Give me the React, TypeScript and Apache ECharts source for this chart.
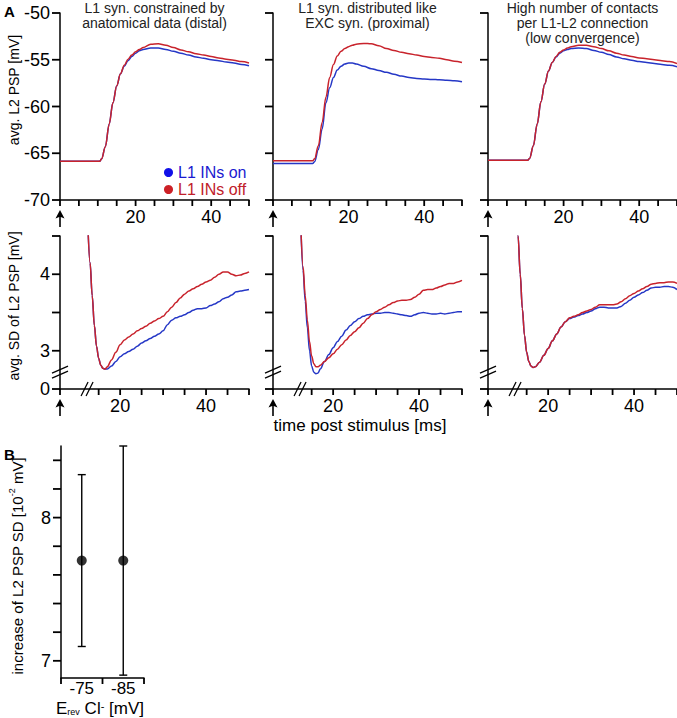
import { useEffect, useRef } from "react";
import * as echarts from "echarts";

const FONT = "'Liberation Sans', Arial, sans-serif";
const BLUE = "#2537c6";
const RED = "#c8232c";

// ---------- data ----------
const SERIES_ON = "L1 INs on";
const SERIES_OFF = "L1 INs off";

const PANEL_TITLES = [
  "L1 syn. constrained by\nanatomical data (distal)",
  "L1 syn. distributed like\nEXC syn. (proximal)",
  "High number of contacts\nper L1-L2 connection\n(low convergence)",
];

// time [ms] for the mean PSP traces
const TOP_TIME = [0, 5, 10, 10.5, 11, 12, 13, 14, 15, 16, 17, 18, 19, 20, 21, 22, 24, 26, 28, 30, 32, 34, 36, 38, 40, 42, 44, 46, 48, 50];

const P1_PSP_ON = [-65.85, -65.85, -65.85, -65.85, -65.6, -64.3, -61.9, -59.6, -57.8, -56.5, -55.7, -55.1, -54.65, -54.3, -54.05, -53.9, -53.75, -53.75, -53.9, -54.1, -54.3, -54.5, -54.7, -54.85, -55.0, -55.1, -55.25, -55.35, -55.5, -55.65];
const P1_PSP_OFF = [-65.85, -65.85, -65.85, -65.85, -65.6, -64.3, -61.9, -59.6, -57.8, -56.5, -55.6, -54.95, -54.5, -54.15, -53.9, -53.7, -53.35, -53.3, -53.45, -53.7, -53.95, -54.15, -54.35, -54.5, -54.65, -54.8, -54.95, -55.05, -55.2, -55.35];
const P2_PSP_ON = [-66.1, -66.1, -66.1, -66.1, -65.9, -64.6, -62.4, -59.6, -58.0, -56.9, -56.1, -55.7, -55.45, -55.35, -55.35, -55.45, -55.7, -55.95, -56.15, -56.35, -56.55, -56.75, -56.9, -57.0, -57.05, -57.1, -57.15, -57.2, -57.25, -57.35];
const P2_PSP_OFF = [-65.8, -65.8, -65.8, -65.8, -65.6, -64.2, -61.7, -59.0, -56.9, -55.5, -54.6, -54.1, -53.8, -53.6, -53.45, -53.35, -53.25, -53.3, -53.5, -53.8, -54.0, -54.2, -54.35, -54.5, -54.65, -54.75, -54.85, -55.0, -55.15, -55.3];
const P3_PSP_ON = [-65.75, -65.75, -65.75, -65.75, -65.55, -64.2, -61.9, -59.5, -57.6, -56.2, -55.3, -54.7, -54.3, -54.05, -53.9, -53.8, -53.75, -53.8, -54.0, -54.2, -54.45, -54.7, -54.9, -55.05, -55.2, -55.3, -55.4, -55.5, -55.6, -55.75];
const P3_PSP_OFF = [-65.75, -65.75, -65.75, -65.75, -65.55, -64.2, -61.9, -59.5, -57.6, -56.2, -55.3, -54.65, -54.2, -53.95, -53.75, -53.6, -53.45, -53.45, -53.6, -53.8, -54.05, -54.3, -54.5, -54.65, -54.8, -54.9, -55.0, -55.1, -55.2, -55.4];

// time [ms] for the SD traces
const SD_TIME = [12.5, 13, 13.5, 14, 14.5, 15, 15.5, 16, 16.5, 17, 18, 19, 20, 21, 22, 23, 24, 25, 26, 27, 28, 29, 30, 31, 32, 33, 34, 35, 36, 37, 38, 39, 40, 41, 42, 43, 44, 45, 46, 47, 48, 49, 50];

const P1_SD_ON = [4.62, 4.15, 3.72, 3.33, 3.06, 2.9, 2.81, 2.77, 2.76, 2.76, 2.8, 2.86, 2.92, 2.96, 2.99, 3.02, 3.06, 3.1, 3.13, 3.16, 3.19, 3.22, 3.26, 3.34, 3.4, 3.43, 3.45, 3.47, 3.5, 3.53, 3.55, 3.55, 3.56, 3.59, 3.61, 3.64, 3.68, 3.7, 3.73, 3.77, 3.78, 3.79, 3.8];
const P1_SD_OFF = [4.62, 4.15, 3.72, 3.33, 3.06, 2.9, 2.81, 2.77, 2.76, 2.79, 2.88, 2.98, 3.08, 3.14, 3.18, 3.22, 3.26, 3.29, 3.32, 3.36, 3.39, 3.42, 3.45, 3.51, 3.57, 3.63, 3.69, 3.74, 3.78, 3.81, 3.84, 3.87, 3.9, 3.92, 3.96, 4.0, 4.03, 4.03, 4.0, 3.98, 3.99, 4.01, 4.03];
const P2_SD_ON = [4.6, 4.05, 3.65, 3.3, 3.0, 2.8, 2.72, 2.7, 2.71, 2.76, 2.86, 2.95, 3.04, 3.12, 3.19, 3.27, 3.33, 3.38, 3.42, 3.45, 3.47, 3.48, 3.49, 3.49, 3.5, 3.5, 3.49, 3.48, 3.47, 3.46, 3.45, 3.47, 3.49, 3.5, 3.49, 3.48, 3.48, 3.49, 3.48, 3.49, 3.5, 3.51, 3.51];
const P2_SD_OFF = [4.6, 4.1, 3.72, 3.4, 3.12, 2.93, 2.83, 2.79, 2.79, 2.81, 2.86, 2.91, 2.96, 3.02, 3.08, 3.14, 3.2, 3.25, 3.3, 3.36, 3.42, 3.47, 3.51, 3.54, 3.57, 3.6, 3.63, 3.65, 3.66, 3.66, 3.67, 3.7, 3.74, 3.79, 3.8, 3.8, 3.82, 3.84, 3.86, 3.88, 3.88, 3.9, 3.92];
const P3_SD_ON = [5.0, 4.5, 4.0, 3.55, 3.2, 2.98, 2.86, 2.8, 2.78, 2.79, 2.85, 2.94, 3.03, 3.13, 3.22, 3.31, 3.38, 3.42, 3.44, 3.46, 3.48, 3.5, 3.52, 3.55, 3.57, 3.57, 3.56, 3.56, 3.56, 3.58, 3.62, 3.66, 3.7, 3.73, 3.76, 3.79, 3.82, 3.83, 3.83, 3.84, 3.84, 3.83, 3.8];
const P3_SD_OFF = [5.0, 4.5, 4.0, 3.55, 3.2, 2.98, 2.86, 2.8, 2.78, 2.79, 2.85, 2.94, 3.03, 3.13, 3.22, 3.31, 3.38, 3.43, 3.45, 3.47, 3.5, 3.52, 3.54, 3.57, 3.6, 3.6, 3.6, 3.6, 3.61, 3.64, 3.68, 3.72, 3.75, 3.78, 3.81, 3.84, 3.87, 3.88, 3.89, 3.89, 3.9, 3.9, 3.88];

const PSP_ON = [P1_PSP_ON, P2_PSP_ON, P3_PSP_ON];
const PSP_OFF = [P1_PSP_OFF, P2_PSP_OFF, P3_PSP_OFF];
const SD_ON = [P1_SD_ON, P2_SD_ON, P3_SD_ON];
const SD_OFF = [P1_SD_OFF, P2_SD_OFF, P3_SD_OFF];

// axis ticks / labels
const TOP_X_TICKS = [0, 5, 10, 15, 20, 25, 30, 35, 40, 45, 50];
const TOP_X_LABELS = [20, 40];
const TOP_Y_TICKS = [-70, -65, -60, -55, -50];
const SD_X_MIN = 6; // broken axis: left end stands for stimulus time 0
const SD_X_BREAK = 12.3;
const SD_X_TICKS = [6, 15, 20, 25, 30, 35, 40, 45, 50];
const SD_X_LABELS = [20, 40];
const SD_Y_TICKS = [2.5, 3, 3.5, 4, 4.5];
const SD_Y_LABEL_VALUES = [2.5, 3, 4];
const SD_Y_LABEL_TEXT = ["0", "3", "4"];
const SD_Y_BREAK = 2.72;

// panel B
const B_CATS = ["-75", "-85"];
const B_MEAN = [7.7, 7.7];
const B_LOW = [7.1, 6.9];
const B_HIGH = [8.3, 8.5];
const B_Y_MIN = 6.88;
const B_Y_TICKS = [7, 7.2, 7.4, 7.6, 7.8, 8, 8.2, 8.4];
const B_Y_LABELS = [7, 8];

// ---------- layout ----------
const COL_LEFT = [60, 273, 488];
const PANEL_W = 189;
const TOP_ROW = { top: 13, height: 187 };
const BOT_ROW = { top: 236, height: 153 };
const B_GRID = { left: 61, top: 446, width: 83, height: 232 };

const AXIS_LINE = { show: true, lineStyle: { color: "#000", width: 1.5 } };
const TICK_FONT = { fontSize: 18, fontFamily: FONT, color: "#000" };
const X_TICK_LEN = 6;
const Y_TICK_LEN = 8;
const TICK_W = 1.8;

echarts.graphic.registerShape(
  "arrowUp",
  echarts.graphic.extendPath("M0,0 L4.5,8.5 L0.8,7 L0.8,17 L-0.8,17 L-0.8,7 L-4.5,8.5 Z", {}) as any
);

// tick marks drawn as a custom series on the panel's own scales
// dir "x": tick hangs down from [v, yBase]; dir "y": tick points left from [xBase, v]
function tickSeries(idx: number, values: number[], dir: "x" | "y", base: number, xOffsetCat = 0) {
  return {
    type: "custom",
    name: "ticks",
    silent: true,
    xAxisIndex: idx,
    yAxisIndex: idx,
    clip: false,
    data: values.map((v) => (dir === "x" ? [v, base] : [base, v])),
    renderItem: (_p: any, api: any) => {
      const c = api.coord([api.value(0), api.value(1)]);
      const x = c[0] + (dir === "y" ? xOffsetCat : 0);
      const y = c[1];
      const shape =
        dir === "x"
          ? { x1: x, y1: y, x2: x, y2: y + X_TICK_LEN }
          : { x1: x - Y_TICK_LEN, y1: y, x2: x, y2: y };
      return { type: "line", shape, style: { stroke: "#000", lineWidth: TICK_W } };
    },
    z: 6,
  };
}

export default function App() {
  const ref = useRef<HTMLDivElement>(null);

  useEffect(() => {
    document.body.style.margin = "0";
    if (!ref.current) return;
    const chart = echarts.init(ref.current, null, { renderer: "svg" });

    const grids: any[] = [];
    const xAxes: any[] = [];
    const yAxes: any[] = [];
    const series: any[] = [];

    const lineSeries = (name: string, idx: number, data: number[][], color: string, z: number) => ({
      type: "line",
      name,
      xAxisIndex: idx,
      yAxisIndex: idx,
      data,
      showSymbol: false,
      smooth: 0.35,
      smoothMonotone: "x",
      clip: true,
      lineStyle: { color, width: 1.5 },
      itemStyle: { color },
      z,
    });

    // top row
    for (let i = 0; i < 3; i++) {
      grids.push({ left: COL_LEFT[i], top: TOP_ROW.top, width: PANEL_W, height: TOP_ROW.height });
      xAxes.push({
        type: "value",
        gridIndex: i,
        min: 0,
        max: 50,
        axisLine: AXIS_LINE,
        axisTick: { show: false },
        axisLabel: { show: true, customValues: TOP_X_LABELS, ...TICK_FONT, margin: 8 },
        splitLine: { show: false },
      });
      yAxes.push({
        type: "value",
        gridIndex: i,
        min: -70,
        max: -50,
        axisLine: AXIS_LINE,
        axisTick: { show: false },
        axisLabel: { show: i === 0, customValues: TOP_Y_TICKS, ...TICK_FONT, margin: 10 },
        splitLine: { show: false },
      });
      series.push(
        lineSeries(SERIES_ON, i, TOP_TIME.map((t, k) => [t, PSP_ON[i][k]]), BLUE, 3),
        lineSeries(SERIES_OFF, i, TOP_TIME.map((t, k) => [t, PSP_OFF[i][k]]), RED, 4),
        tickSeries(i, TOP_X_TICKS, "x", -70),
        tickSeries(i, TOP_Y_TICKS, "y", 0)
      );
    }

    // bottom row
    for (let i = 0; i < 3; i++) {
      const gi = 3 + i;
      grids.push({ left: COL_LEFT[i], top: BOT_ROW.top, width: PANEL_W, height: BOT_ROW.height });
      xAxes.push({
        type: "value",
        gridIndex: gi,
        min: SD_X_MIN,
        max: 50,
        axisLine: AXIS_LINE,
        axisTick: { show: false },
        axisLabel: { show: true, customValues: SD_X_LABELS, ...TICK_FONT, margin: 8 },
        splitLine: { show: false },
      });
      yAxes.push({
        type: "value",
        gridIndex: gi,
        min: 2.5,
        max: 4.5,
        axisLine: AXIS_LINE,
        axisTick: { show: false },
        axisLabel: {
          show: i === 0,
          customValues: SD_Y_LABEL_VALUES,
          formatter: (v: number) => {
            const idx = SD_Y_LABEL_VALUES.findIndex((x) => Math.abs(x - v) < 1e-6);
            return idx >= 0 ? SD_Y_LABEL_TEXT[idx] : "";
          },
          ...TICK_FONT,
          margin: 10,
        },
        splitLine: { show: false },
      });
      series.push(
        lineSeries(SERIES_ON, gi, SD_TIME.map((t, k) => [t, SD_ON[i][k]]), BLUE, 3),
        lineSeries(SERIES_OFF, gi, SD_TIME.map((t, k) => [t, SD_OFF[i][k]]), RED, 4),
        tickSeries(gi, SD_X_TICKS, "x", 2.5),
        tickSeries(gi, SD_Y_TICKS, "y", SD_X_MIN)
      );
    }

    // panel B
    grids.push({ ...B_GRID });
    xAxes.push({
      type: "category",
      gridIndex: 6,
      data: B_CATS,
      boundaryGap: true,
      axisLine: AXIS_LINE,
      axisTick: { show: false },
      axisLabel: { show: true, interval: 0, fontSize: 17, fontFamily: FONT, color: "#000", margin: 2 },
      splitLine: { show: false },
    });
    yAxes.push({
      type: "value",
      gridIndex: 6,
      min: B_Y_MIN,
      max: 8.5,
      axisLine: AXIS_LINE,
      axisTick: { show: false },
      axisLabel: { show: true, customValues: B_Y_LABELS, ...TICK_FONT, margin: 10 },
      splitLine: { show: false },
    });
    const bHalfBand = B_GRID.width / B_CATS.length / 2;
    series.push(
      {
        type: "custom",
        name: "errorbars",
        xAxisIndex: 6,
        yAxisIndex: 6,
        data: B_CATS.map((_, k) => [k, B_LOW[k], B_HIGH[k]]),
        renderItem: (_params: any, api: any) => {
          const x = api.value(0);
          const lo = api.coord([x, api.value(1)]);
          const hi = api.coord([x, api.value(2)]);
          const cap = 4;
          const st = { stroke: "#000", lineWidth: 1.4 };
          return {
            type: "group",
            children: [
              { type: "line", shape: { x1: lo[0], y1: lo[1], x2: hi[0], y2: hi[1] }, style: st },
              { type: "line", shape: { x1: lo[0] - cap, y1: lo[1], x2: lo[0] + cap, y2: lo[1] }, style: st },
              { type: "line", shape: { x1: hi[0] - cap, y1: hi[1], x2: hi[0] + cap, y2: hi[1] }, style: st },
            ],
          };
        },
        z: 3,
      },
      {
        type: "scatter",
        name: "mean",
        xAxisIndex: 6,
        yAxisIndex: 6,
        data: B_MEAN,
        symbol: "circle",
        symbolSize: 10,
        itemStyle: { color: "#000" },
        z: 5,
      },
      // y ticks on the value axis (shifted from category 0's centre to the axis line)
      tickSeries(6, B_Y_TICKS, "y", 0, -bHalfBand),
      // x ticks at the category band boundaries
      {
        type: "custom",
        name: "ticks",
        silent: true,
        xAxisIndex: 6,
        yAxisIndex: 6,
        clip: false,
        data: B_CATS.map((_, k) => [k, B_Y_MIN]),
        renderItem: (p: any, api: any) => {
          const c = api.coord([api.value(0), api.value(1)]);
          const st = { stroke: "#000", lineWidth: TICK_W };
          const kids: any[] = [
            { type: "line", shape: { x1: c[0] + bHalfBand, y1: c[1], x2: c[0] + bHalfBand, y2: c[1] + 6 }, style: st },
          ];
          if (p.dataIndex === 0) {
            kids.push({ type: "line", shape: { x1: c[0] - bHalfBand, y1: c[1], x2: c[0] - bHalfBand, y2: c[1] + 6 }, style: st });
          }
          return { type: "group", children: kids };
        },
        z: 6,
      }
    );

    const staticGraphics: any[] = [
      { type: "text", x: 4, y: 4, style: { text: "A", fontSize: 15, fontWeight: "bold", fontFamily: FONT, fill: "#000" } },
      { type: "text", x: 4, y: 447, style: { text: "B", fontSize: 15, fontWeight: "bold", fontFamily: FONT, fill: "#000" } },
      ...PANEL_TITLES.map((t, i) => ({
        type: "text",
        x: COL_LEFT[i] + PANEL_W / 2,
        y: 0,
        style: {
          text: t,
          fontSize: 14,
          lineHeight: 15,
          fontFamily: FONT,
          fill: "#222",
          textAlign: "center",
          textVerticalAlign: "top",
        },
      })),
      {
        type: "text",
        x: 14,
        y: 90,
        rotation: Math.PI / 2,
        style: { text: "avg. L2 PSP [mV]", fontSize: 14, fontFamily: FONT, fill: "#000", textAlign: "center", textVerticalAlign: "middle" },
      },
      {
        type: "text",
        x: 14,
        y: 306,
        rotation: Math.PI / 2,
        style: { text: "avg. SD of L2 PSP [mV]", fontSize: 14, fontFamily: FONT, fill: "#000", textAlign: "center", textVerticalAlign: "middle" },
      },
      {
        type: "text",
        x: 360,
        y: 425,
        style: { text: "time post stimulus [ms]", fontSize: 17, fontFamily: FONT, fill: "#000", textAlign: "center", textVerticalAlign: "middle" },
      },
      {
        type: "text",
        x: 17,
        y: 566,
        rotation: Math.PI / 2,
        style: {
          text: "{a|increase of L2 PSP SD [10}{s|-2}{a| mV]}",
          rich: {
            a: { fontSize: 15, fontFamily: FONT, fill: "#000", lineHeight: 20 },
            s: { fontSize: 9, fontFamily: FONT, fill: "#000", verticalAlign: "top", lineHeight: 20 },
          },
          textAlign: "center",
          textVerticalAlign: "middle",
        },
      },
      {
        type: "text",
        x: 100,
        y: 708,
        style: {
          text: "{a|E}{b|rev}{a| Cl}{c|-}{a| [mV]}",
          rich: {
            a: { fontSize: 17, fontFamily: FONT, fill: "#000", lineHeight: 16 },
            b: { fontSize: 9, fontFamily: FONT, fill: "#000", verticalAlign: "bottom", lineHeight: 16 },
            c: { fontSize: 11, fontFamily: FONT, fill: "#000", verticalAlign: "top", lineHeight: 16 },
          },
          textAlign: "center",
          textVerticalAlign: "middle",
        },
      },
    ];

    chart.setOption({
      animation: false,
      backgroundColor: "#fff",
      textStyle: { fontFamily: FONT },
      grid: grids,
      xAxis: xAxes,
      yAxis: yAxes,
      series,
      legend: {
        data: [
          { name: SERIES_ON, itemStyle: { color: "#1010e8" }, textStyle: { color: "#1a1ad0" } },
          { name: SERIES_OFF, itemStyle: { color: "#cc2026" }, textStyle: { color: "#c0202a" } },
        ],
        orient: "vertical",
        left: 164,
        top: 164,
        icon: "circle",
        itemWidth: 9,
        itemHeight: 9,
        itemGap: 0,
        padding: 0,
        selectedMode: false,
        textStyle: { fontSize: 16, fontFamily: FONT, lineHeight: 17 },
      },
    });

    // axis-break marks and stimulus arrows, placed via the axes' own scales
    const extra: any[] = [];
    const brkSt = { stroke: "#000", lineWidth: 1.2 };
    const px = (idx: number, v: number[]) =>
      chart.convertToPixel({ xAxisIndex: idx, yAxisIndex: idx }, v) as number[];

    for (let i = 0; i < 3; i++) {
      const top0 = px(i, [0, -70]);
      extra.push({ type: "arrowUp", x: top0[0], y: top0[1] + 10, style: { fill: "#000" } });

      const gi = 3 + i;
      const b0 = px(gi, [SD_X_MIN, 2.5]);
      extra.push({ type: "arrowUp", x: b0[0], y: b0[1] + 10, style: { fill: "#000" } });

      const py = px(gi, [SD_X_MIN, SD_Y_BREAK]);
      const pb = px(gi, [SD_X_BREAK, 2.5]);
      for (const d of [-2.5, 2.5]) {
        extra.push({
          type: "line",
          shape: { x1: py[0] - 8, y1: py[1] + d + 3.5, x2: py[0] + 8, y2: py[1] + d - 3.5 },
          style: brkSt,
        });
        extra.push({
          type: "line",
          shape: { x1: pb[0] + d - 3.5, y1: pb[1] + 7, x2: pb[0] + d + 3.5, y2: pb[1] - 7 },
          style: brkSt,
        });
      }
    }

    chart.setOption({ graphic: { elements: [...staticGraphics, ...extra] } });

    return () => chart.dispose();
  }, []);

  return <div ref={ref} style={{ width: 677, height: 718 }} />;
}
